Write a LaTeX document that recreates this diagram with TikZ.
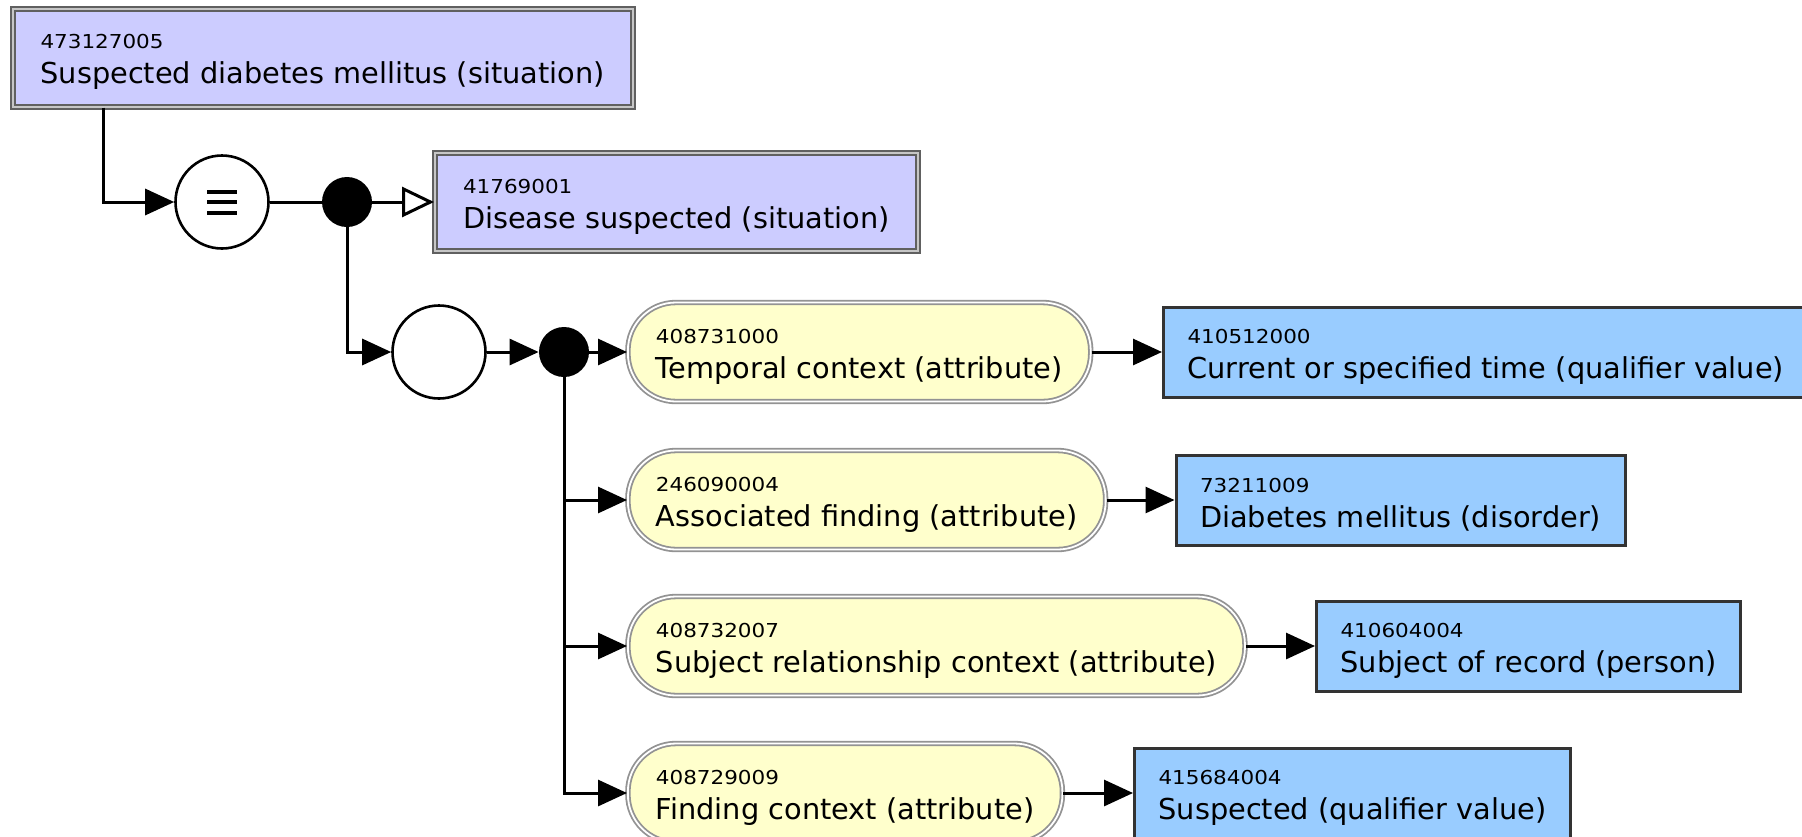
\documentclass[tikz,border=0pt]{standalone}
\usepackage{fontspec}
\setmainfont{DejaVu Sans}
\newfontfamily\idfont{DejaVu Sans}[FakeStretch=1.12]
\usetikzlibrary{arrows.meta,positioning}

\definecolor{sitfill}{HTML}{CCCCFF}
\definecolor{attfill}{HTML}{FFFFCC}
\definecolor{valfill}{HTML}{99CCFF}
\definecolor{valline}{HTML}{333333}

% id on the first line, name on the second
\newcommand{\concept}[2]{{\fontsize{9.6}{11}\idfont\rule{0pt}{11.7pt}#1}\\#2}

\begin{document}
\begin{tikzpicture}[x=0.5pt,y=-0.5pt,
    font=\fontsize{14.4}{17.5}\selectfont,
    box/.style={anchor=west, align=left, inner ysep=0pt},
    sitbox/.style={box, fill=sitfill, draw=gray!75!black, line width=1pt,
        double=gray!45, double distance=1pt, inner xsep=14pt, minimum height=49pt},
    attbox/.style={box, fill=attfill, draw=gray!85, line width=0.9pt,
        double=white, double distance=0.9pt, rounded corners=24pt,
        inner xsep=14pt, minimum height=49.5pt},
    valbox/.style={box, fill=valfill, draw=valline, line width=1.5pt,
        inner xsep=12pt, minimum height=45pt},
    opcirc/.style={circle, draw, fill=white, line width=1.3pt, minimum size=46.5pt, inner sep=0pt},
    equiv/.style={path picture={
        \foreach \dy in {-10.5,0,10.5}
            \draw[line width=2pt] ([shift={(-15,\dy)}]path picture bounding box.center) -- ++(30,0);}},
    dot/.style={circle, fill=black, minimum size=25pt, inner sep=0pt},
    conn/.style={line width=1.5pt},
    arr/.style={conn, -{Triangle[length=14.5pt,width=13pt]}},
    isa/.style={conn, -{Triangle[open,length=16pt,width=15pt,fill=white]}}
]
    \useasboundingbox (0,0) rectangle (1802,836);
    \clip (0,0) rectangle (1802,836);

    % Situation concepts
    \node[sitbox] (susp) at (11.5,57.5) {\concept{473127005}{Suspected diabetes mellitus (situation)}};
    \node[sitbox] (dis) at (434,202) {\concept{41769001}{Disease suspected (situation)}};

    % Operators
    \node[opcirc, equiv] (eq) at (222,202) {};
    \node[dot] (j1) at (347,202) {};
    \node[opcirc] (grp) at (439,352) {};
    \node[dot] (j2) at (564,352) {};

    % Attributes
    \node[attbox] (a1) at (627,352) {\concept{408731000}{Temporal context (attribute)}};
    \node[attbox] (a2) at (627,500) {\concept{246090004}{Associated finding (attribute)}};
    \node[attbox] (a3) at (627,646) {\concept{408732007}{Subject relationship context (attribute)}};
    \node[attbox] (a4) at (627,793) {\concept{408729009}{Finding context (attribute)}};

    % Values
    \node[valbox] (v1) at (1162,352) {\concept{410512000}{Current or specified time (qualifier value)}};
    \node[valbox] (v2) at (1174.5,500) {\concept{73211009}{Diabetes mellitus (disorder)}};
    \node[valbox] (v3) at (1315,646) {\concept{410604004}{Subject of record (person)}};
    \node[valbox] (v4) at (1133,793) {\concept{415684004}{Suspected (qualifier value)}};

    % Connectors
    \draw[arr] ([xshift=46pt]susp.south west) |- (eq);
    \draw[conn] (eq) -- (j1);
    \draw[isa] (j1) -- (dis);
    \draw[arr] (j1) |- (grp);
    \draw[arr] (grp) -- (j2);
    \draw[arr] (j2) -- (a1);
    \foreach \n in {a2,a3,a4}
        \draw[arr] (j2) |- (\n);
    \foreach \a/\v in {a1/v1,a2/v2,a3/v3,a4/v4}
        \draw[arr] (\a) -- (\v);

\end{tikzpicture}
\end{document}
